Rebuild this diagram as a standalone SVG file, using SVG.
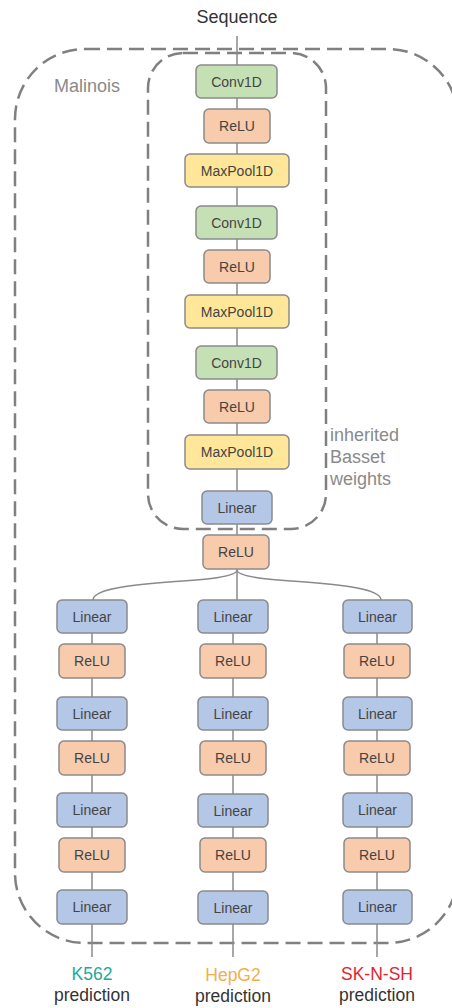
<svg xmlns="http://www.w3.org/2000/svg" width="452" height="1008" viewBox="0 0 452 1008">
<style>
.box{stroke:#8a8a8a;stroke-width:1.5}
.conv{fill:#c5e0b4}
.relu{fill:#f8cbad}
.pool{fill:#ffe699}
.lin{fill:#b4c7e7}
.lbl{font-family:"Liberation Sans",Arial,sans-serif;font-size:14px;fill:#444;text-anchor:middle}
.dash{fill:none;stroke:#808080;stroke-width:2.5;stroke-dasharray:15 7}
.conn{fill:none;stroke:#8a8a8a;stroke-width:1.5}
.big{font-family:"Liberation Sans",Arial,sans-serif;font-size:18px}
.gray{fill:#8a8a8a}
.pred{font-family:"Liberation Sans",Arial,sans-serif;font-size:17.5px;text-anchor:middle}
</style>
<rect width="452" height="1008" fill="#ffffff"/>
<g id="groups">
<rect class="dash" x="15" y="49" width="443" height="894" rx="70"/>
<rect class="dash" x="148" y="53" width="178" height="476" rx="35"/>
<text class="big gray" x="54" y="92">Malinois</text>
<text class="big gray" x="330" y="441">inherited</text>
<text class="big gray" x="330" y="463">Basset</text>
<text class="big gray" x="330" y="485">weights</text>
</g>
<g id="connectors">
<line class="conn" x1="237" y1="36" x2="237" y2="600"/>
<path class="conn" d="M237,570 C237,585 93,578 93,600"/>
<path class="conn" d="M237,570 C237,585 381,578 381,600"/>
<line class="conn" x1="92" y1="600" x2="92" y2="957"/>
<line class="conn" x1="233" y1="633" x2="233" y2="957"/>
<line class="conn" x1="377" y1="600" x2="377" y2="957"/>
</g>
<text id="input" class="big" x="237" y="23" text-anchor="middle" fill="#333">Sequence</text>
<g id="conv1"><rect class="box conv" x="196" y="65" width="81" height="33" rx="5"/><text class="lbl" x="236.5" y="86.5">Conv1D</text></g>
<g id="relu1"><rect class="box relu" x="204" y="109" width="66" height="34" rx="5"/><text class="lbl" x="237" y="131">ReLU</text></g>
<g id="pool1"><rect class="box pool" x="185" y="154" width="104" height="33" rx="5"/><text class="lbl" x="237" y="175.5">MaxPool1D</text></g>
<g id="conv2"><rect class="box conv" x="196" y="206" width="81" height="33" rx="5"/><text class="lbl" x="236.5" y="227.5">Conv1D</text></g>
<g id="relu2"><rect class="box relu" x="204" y="250" width="66" height="33" rx="5"/><text class="lbl" x="237" y="271.5">ReLU</text></g>
<g id="pool2"><rect class="box pool" x="185" y="295" width="104" height="33" rx="5"/><text class="lbl" x="237" y="316.5">MaxPool1D</text></g>
<g id="conv3"><rect class="box conv" x="196" y="346" width="81" height="33" rx="5"/><text class="lbl" x="236.5" y="367.5">Conv1D</text></g>
<g id="relu3"><rect class="box relu" x="204" y="390" width="66" height="33" rx="5"/><text class="lbl" x="237" y="411.5">ReLU</text></g>
<g id="pool3"><rect class="box pool" x="185" y="435" width="104" height="34" rx="5"/><text class="lbl" x="237" y="457">MaxPool1D</text></g>
<g id="linear0"><rect class="box lin" x="202" y="491" width="70" height="33" rx="5"/><text class="lbl" x="237" y="512.5">Linear</text></g>
<g id="relu0"><rect class="box relu" x="203" y="535" width="66" height="34" rx="5"/><text class="lbl" x="236" y="557">ReLU</text></g>

<g id="k_lin1"><rect class="box lin" x="57" y="600" width="70" height="33" rx="5"/><text class="lbl" x="92" y="621.5">Linear</text></g>
<g id="k_relu1"><rect class="box relu" x="59" y="644" width="66" height="34" rx="5"/><text class="lbl" x="92" y="666">ReLU</text></g>
<g id="k_lin2"><rect class="box lin" x="57" y="697" width="70" height="33" rx="5"/><text class="lbl" x="92" y="718.5">Linear</text></g>
<g id="k_relu2"><rect class="box relu" x="59" y="741" width="66" height="34" rx="5"/><text class="lbl" x="92" y="763">ReLU</text></g>
<g id="k_lin3"><rect class="box lin" x="57" y="793" width="70" height="34" rx="5"/><text class="lbl" x="92" y="815">Linear</text></g>
<g id="k_relu3"><rect class="box relu" x="59" y="838" width="66" height="34" rx="5"/><text class="lbl" x="92" y="860">ReLU</text></g>
<g id="k_lin4"><rect class="box lin" x="57" y="890" width="70" height="34" rx="5"/><text class="lbl" x="92" y="912">Linear</text></g>

<g id="h_lin1"><rect class="box lin" x="198" y="600" width="70" height="33" rx="5"/><text class="lbl" x="233" y="621.5">Linear</text></g>
<g id="h_relu1"><rect class="box relu" x="200" y="644" width="66" height="34" rx="5"/><text class="lbl" x="233" y="666">ReLU</text></g>
<g id="h_lin2"><rect class="box lin" x="198" y="697" width="70" height="33" rx="5"/><text class="lbl" x="233" y="718.5">Linear</text></g>
<g id="h_relu2"><rect class="box relu" x="200" y="741" width="66" height="34" rx="5"/><text class="lbl" x="233" y="763">ReLU</text></g>
<g id="h_lin3"><rect class="box lin" x="198" y="794" width="70" height="33" rx="5"/><text class="lbl" x="233" y="815.5">Linear</text></g>
<g id="h_relu3"><rect class="box relu" x="200" y="838" width="66" height="34" rx="5"/><text class="lbl" x="233" y="860">ReLU</text></g>
<g id="h_lin4"><rect class="box lin" x="198" y="891" width="70" height="33" rx="5"/><text class="lbl" x="233" y="912.5">Linear</text></g>

<g id="s_lin1"><rect class="box lin" x="343" y="600" width="69" height="33" rx="5"/><text class="lbl" x="377.5" y="621.5">Linear</text></g>
<g id="s_relu1"><rect class="box relu" x="344" y="644" width="66" height="34" rx="5"/><text class="lbl" x="377" y="666">ReLU</text></g>
<g id="s_lin2"><rect class="box lin" x="343" y="697" width="69" height="33" rx="5"/><text class="lbl" x="377.5" y="718.5">Linear</text></g>
<g id="s_relu2"><rect class="box relu" x="344" y="741" width="66" height="34" rx="5"/><text class="lbl" x="377" y="763">ReLU</text></g>
<g id="s_lin3"><rect class="box lin" x="343" y="793" width="69" height="34" rx="5"/><text class="lbl" x="377.5" y="815">Linear</text></g>
<g id="s_relu3"><rect class="box relu" x="344" y="838" width="66" height="34" rx="5"/><text class="lbl" x="377" y="860">ReLU</text></g>
<g id="s_lin4"><rect class="box lin" x="343" y="890" width="69" height="34" rx="5"/><text class="lbl" x="377.5" y="912">Linear</text></g>

<g id="out_k562"><text class="pred" x="92" y="980" fill="#22a99a">K562</text><text class="pred" x="92" y="1001" fill="#333">prediction</text></g>
<g id="out_hepg2"><text class="pred" x="233" y="981" fill="#f3ae4b">HepG2</text><text class="pred" x="233" y="1002" fill="#333">prediction</text></g>
<g id="out_sknsh"><text class="pred" x="377" y="980" fill="#e32430">SK-N-SH</text><text class="pred" x="377" y="1001" fill="#333">prediction</text></g>
</svg>
